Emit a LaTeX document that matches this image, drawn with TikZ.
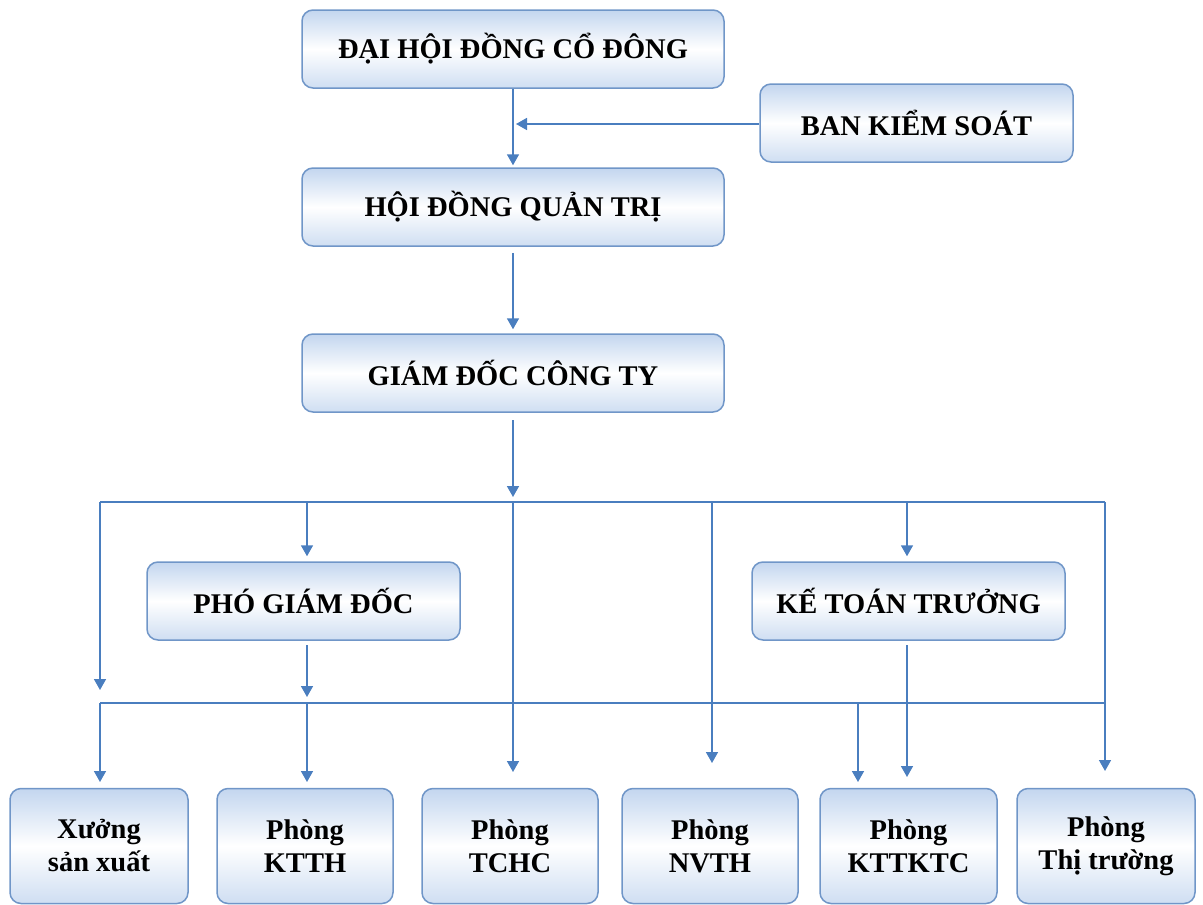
\documentclass[tikz,border=0pt]{standalone}
\usepackage{fontspec}
\setmainfont{Liberation Serif}
\usetikzlibrary{arrows.meta}
\definecolor{boxline}{HTML}{7096C8}
\definecolor{boxblue}{HTML}{C3D6EF}
\definecolor{arrowblue}{HTML}{4A7EBF}
\tikzset{
  box/.style={draw=boxline, line width=1.5pt, rounded corners=11pt,
    top color=boxblue, bottom color=boxblue!80, middle color=white,
    align=center, inner sep=0pt,
    font=\fontsize{28.5}{33}\selectfont\bfseries},
  bigbox/.style={box, minimum width=422pt, minimum height=78pt},
  midbox/.style={box, minimum width=313pt, minimum height=78pt},
  lowbox/.style={box, minimum width=177pt, minimum height=115pt},
  conn/.style={draw=arrowblue, line width=1.6pt},
  arr/.style={conn, -{Triangle[width=12pt,length=11pt]}}
}
\begin{document}
\begin{tikzpicture}[x=1pt,y=-1pt]
\useasboundingbox (0,0) rectangle (1203,905);
% boxes
\node[bigbox] (dhdcd) at (513,49) {ĐẠI HỘI ĐỒNG CỔ ĐÔNG};
\node[midbox] (bks) at (916.5,123) {BAN KIỂM SOÁT};
\node[bigbox] (hdqt) at (513,207) {HỘI ĐỒNG QUẢN TRỊ};
\node[bigbox] (gd) at (513,373) {GIÁM ĐỐC CÔNG TY};
\node[midbox] (pgd) at (303.5,601) {PHÓ GIÁM ĐỐC};
\node[midbox] (ktt) at (908.5,601) {KẾ TOÁN TRƯỞNG};
\node[lowbox, minimum width=178pt] (xsx) at (99,846) {Xưởng\\sản xuất};
\node[lowbox, minimum width=176pt] (ktth) at (305,846) {Phòng\\KTTH};
\node[lowbox, minimum width=176pt] (tchc) at (510,846) {Phòng\\TCHC};
\node[lowbox, minimum width=176pt] (nvth) at (710,846) {Phòng\\NVTH};
\node[lowbox, minimum width=177pt] (kttktc) at (908.5,846) {Phòng\\KTTKTC};
\node[lowbox, minimum width=178pt] (tt) at (1106,846) {Phòng\\Thị trường};
% coordinates
\coordinate (bksend) at (516,124);
\coordinate (g1) at (513,420);
\coordinate (g1tip) at (513,497);
\coordinate (b1L) at (100,502);
\coordinate (b1a) at (307,502);
\coordinate (b1c) at (513,502);
\coordinate (b1d) at (712,502);
\coordinate (b1e) at (907,502);
\coordinate (b1R) at (1105,502);
\coordinate (t100a) at (100,690);
\coordinate (p1) at (307,645);
\coordinate (p1tip) at (307,697);
\coordinate (k1) at (907,645);
\coordinate (k1tip) at (907,777);
\coordinate (b2L) at (100,703);
\coordinate (b2a) at (307,703);
\coordinate (b2k) at (858,703);
\coordinate (b2R) at (1105,703);
\coordinate (t100b) at (100,782);
\coordinate (t307b) at (307,782);
\coordinate (t858) at (858,782);
\coordinate (t513) at (513,772);
\coordinate (t712) at (712,763);
\coordinate (t1105) at (1105,771);
% top connectors
\draw[arr, shorten >=2pt] (dhdcd.south) -- (hdqt.north);
\draw[arr] (bks.west |- bksend) -- (bksend);
\draw[arr, shorten <=6pt, shorten >=4pt] (hdqt.south) -- (gd.north);
\draw[arr] (g1) -- (g1tip);
% bus 1
\draw[conn] (b1L) -- (b1R);
\draw[arr] (b1L) -- (t100a);
\draw[arr, shorten >=5pt] (b1a) -- (pgd.north -| b1a);
\draw[arr] (b1c) -- (t513);
\draw[arr] (b1d) -- (t712);
\draw[arr, shorten >=5pt] (b1e) -- (ktt.north -| b1e);
\draw[arr] (b1R) -- (t1105);
% second level
\draw[arr] (p1) -- (p1tip);
\draw[arr] (k1) -- (k1tip);
\draw[conn] (b2L) -- (b2R);
\draw[arr] (b2L) -- (t100b);
\draw[arr] (b2a) -- (t307b);
\draw[arr] (b2k) -- (t858);
\end{tikzpicture}
\end{document}
